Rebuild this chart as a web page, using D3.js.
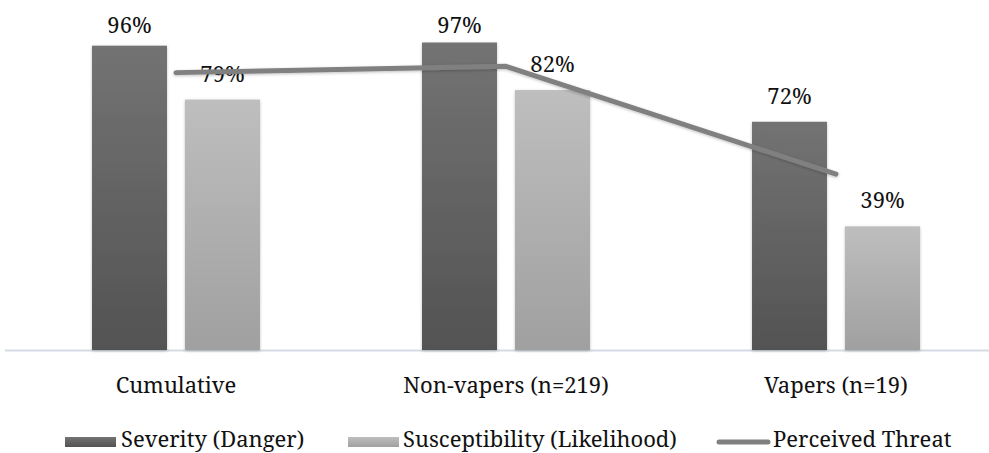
<!DOCTYPE html>
<html>
<head>
<meta charset="utf-8">
<script src="https://cdnjs.cloudflare.com/ajax/libs/d3/7.8.5/d3.min.js"></script>
<style>
  body { margin: 0; background: #fff; }
</style>
</head>
<body>
<svg width="989" height="453"></svg>
<script>
var categories = ["Cumulative", "Non-vapers (n=219)", "Vapers (n=19)"];
var seriesNames = ["Severity (Danger)", "Susceptibility (Likelihood)"];
var severity = [96, 97, 72];
var susceptibility = [79, 82, 39];
var perceivedThreat = [87.5, 89.5, 55.5];
var lineName = "Perceived Threat";

var FONT = "'Noto Serif'";

var svg = d3.select("svg"),
    baseY = 350,
    topY = 33;

var x0 = d3.scaleBand()
    .domain(categories)
    .range([11, 1001])
    .paddingInner(0.491)
    .paddingOuter(0.2455);

var x1 = d3.scaleBand()
    .domain(seriesNames)
    .range([0, x0.bandwidth()])
    .paddingInner(0.194);

var y = d3.scaleLinear()
    .domain([0, 100])
    .range([baseY, topY]);

var defs = svg.append("defs");

function grad(id, c1, c2) {
  var g = defs.append("linearGradient")
      .attr("id", id)
      .attr("x1", 0).attr("y1", 0)
      .attr("x2", 0).attr("y2", 1);
  g.append("stop").attr("offset", "0%").attr("stop-color", c1);
  g.append("stop").attr("offset", "100%").attr("stop-color", c2);
}
grad("gDark", "#737373", "#535353");
grad("gLight", "#bebebe", "#a0a0a0");

var f = defs.append("filter")
    .attr("id", "shadow")
    .attr("x", "-20%").attr("y", "-20%")
    .attr("width", "140%").attr("height", "140%");
f.append("feDropShadow")
    .attr("dx", 0).attr("dy", 1)
    .attr("stdDeviation", 1.5)
    .attr("flood-color", "#000")
    .attr("flood-opacity", 0.25);

var fills = {};
fills[seriesNames[0]] = "url(#gDark)";
fills[seriesNames[1]] = "url(#gLight)";

// axis line
svg.append("line")
    .attr("x1", 5)
    .attr("x2", 989)
    .attr("y1", baseY + 0.5)
    .attr("y2", baseY + 0.5)
    .attr("stroke", "#d6dbe3")
    .attr("stroke-width", 2);

var rows = categories.map(function(c, i) {
  return {cat: c, vals: [
    {name: seriesNames[0], value: severity[i]},
    {name: seriesNames[1], value: susceptibility[i]}
  ]};
});

var groups = svg.selectAll(".grp")
    .data(rows)
    .enter().append("g")
    .attr("class", "grp")
    .attr("transform", function(d) { return "translate(" + x0(d.cat) + ",0)"; });

groups.selectAll("rect")
    .data(function(d) { return d.vals; })
    .enter().append("rect")
    .attr("x", function(d) { return x1(d.name); })
    .attr("y", function(d) { return y(d.value); })
    .attr("width", x1.bandwidth())
    .attr("height", function(d) { return baseY - y(d.value); })
    .attr("fill", function(d) { return fills[d.name]; })
    .attr("filter", "url(#shadow)");

// perceived threat line
var line = d3.line()
    .x(function(d, i) { return x0(categories[i]) + x0.bandwidth() / 2; })
    .y(function(d) { return y(d); });

svg.append("path")
    .datum(perceivedThreat)
    .attr("d", line)
    .attr("fill", "none")
    .attr("stroke", "#808080")
    .attr("stroke-width", 5)
    .attr("stroke-linecap", "round")
    .attr("stroke-linejoin", "round")
    .attr("filter", "url(#shadow)");

// value labels
groups.selectAll(".lbl")
    .data(function(d) { return d.vals; })
    .enter().append("text")
    .attr("class", "lbl")
    .attr("x", function(d) { return x1(d.name) + x1.bandwidth() / 2; })
    .attr("y", function(d) { return Math.max(y(d.value) - 18, 33); })
    .attr("text-anchor", "middle")
    .style("font-family", FONT)
    .style("font-size", "22px")
    .style("fill", "#111")
    .text(function(d) { return d.value + "%"; });

// category labels
svg.selectAll(".cat")
    .data(categories)
    .enter().append("text")
    .attr("class", "cat")
    .attr("x", function(d) { return x0(d) + x0.bandwidth() / 2; })
    .attr("y", 393)
    .attr("text-anchor", "middle")
    .style("font-family", FONT)
    .style("font-size", "22px")
    .style("fill", "#111")
    .text(function(d) { return d; });

// legend
var legend = [
  {name: seriesNames[0], type: "rect", fill: "url(#gDark)", sx: 65, tx: 121},
  {name: seriesNames[1], type: "rect", fill: "url(#gLight)", sx: 348, tx: 403},
  {name: lineName, type: "line", sx: 717, tx: 773}
];

var lg = svg.selectAll(".leg")
    .data(legend)
    .enter().append("g")
    .attr("class", "leg");

lg.filter(function(d) { return d.type === "rect"; })
    .append("rect")
    .attr("x", function(d) { return d.sx; })
    .attr("y", 437)
    .attr("width", 51)
    .attr("height", 10)
    .attr("fill", function(d) { return d.fill; });

lg.filter(function(d) { return d.type === "line"; })
    .append("line")
    .attr("x1", function(d) { return d.sx + 2; })
    .attr("x2", function(d) { return d.sx + 51; })
    .attr("y1", 442)
    .attr("y2", 442)
    .attr("stroke", "#808080")
    .attr("stroke-width", 5)
    .attr("stroke-linecap", "round");

lg.append("text")
    .attr("x", function(d) { return d.tx; })
    .attr("y", 447)
    .style("font-family", FONT)
    .style("font-size", "22px")
    .style("fill", "#111")
    .text(function(d) { return d.name; });
</script>
</body>
</html>
